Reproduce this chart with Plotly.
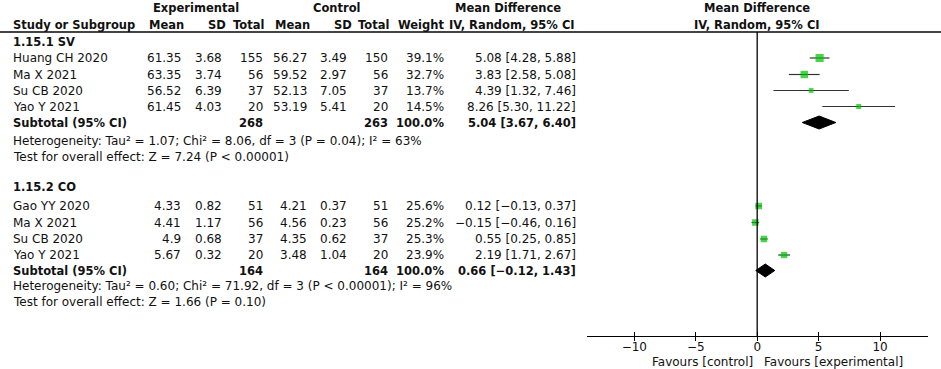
import plotly.graph_objects as go

# ---------------- data ----------------
studies_sv = ["Huang CH 2020", "Ma X 2021", "Su CB 2020", "Yao Y 2021"]
exp_mean_sv = [61.35, 63.35, 56.52, 61.45]
exp_sd_sv = [3.68, 3.74, 6.39, 4.03]
exp_n_sv = [155, 56, 37, 20]
ctl_mean_sv = [56.27, 59.52, 52.13, 53.19]
ctl_sd_sv = [3.49, 2.97, 7.05, 5.41]
ctl_n_sv = [150, 56, 37, 20]
weight_sv = [39.1, 32.7, 13.7, 14.5]
md_sv = [5.08, 3.83, 4.39, 8.26]
lo_sv = [4.28, 2.58, 1.32, 5.30]
hi_sv = [5.88, 5.08, 7.46, 11.22]
sub_sv = {"n_e": 268, "n_c": 263, "md": 5.04, "lo": 3.67, "hi": 6.40}
het_sv = "Heterogeneity: Tau² = 1.07; Chi² = 8.06, df = 3 (P = 0.04); I² = 63%"
test_sv = "Test for overall effect: Z = 7.24 (P < 0.00001)"

studies_co = ["Gao YY 2020", "Ma X 2021", "Su CB 2020", "Yao Y 2021"]
exp_mean_co = [4.33, 4.41, 4.9, 5.67]
exp_sd_co = [0.82, 1.17, 0.68, 0.32]
exp_n_co = [51, 56, 37, 20]
ctl_mean_co = [4.21, 4.56, 4.35, 3.48]
ctl_sd_co = [0.37, 0.23, 0.62, 1.04]
ctl_n_co = [51, 56, 37, 20]
weight_co = [25.6, 25.2, 25.3, 23.9]
md_co = [0.12, -0.15, 0.55, 2.19]
lo_co = [-0.13, -0.46, 0.25, 1.71]
hi_co = [0.37, 0.16, 0.85, 2.67]
sub_co = {"n_e": 164, "n_c": 164, "md": 0.66, "lo": -0.12, "hi": 1.43}
het_co = "Heterogeneity: Tau² = 0.60; Chi² = 71.92, df = 3 (P < 0.00001); I² = 96%"
test_co = "Test for overall effect: Z = 1.66 (P = 0.10)"

tick_vals = [-10, -5, 0, 5, 10]
group_titles = ["1.15.1 SV", "1.15.2 CO"]

# ---------------- layout helpers ----------------
W, H = 941, 369
FONT = "DejaVu Sans"
FS = 12
FSB = 11.5

# row positions (pixels from top)
rows_sv = [58, 74.5, 90.5, 106.5]
sub_y_sv = 122.5
het_y_sv = 141
test_y_sv = 157
grp_y = [42, 187]
rows_co = [206, 222.5, 239, 255]
sub_y_co = 270.5
het_y_co = 286
test_y_co = 302

# column right edges (pixels)
col_right = [182, 223, 264, 308, 348, 389, 445, 577]

annotations = []


def px(x):
    return x / W


def txt(x, y, s, anchor="right", bold=False):
    if bold:
        s = "<b>" + s + "</b>"
    annotations.append(dict(
        x=px(x), xref="paper", y=y, yref="y", text=s, showarrow=False,
        xanchor=anchor, yanchor="middle", borderpad=0,
        font=dict(family=FONT, size=FSB if bold else FS, color="#111")))


def fmt_num(v):
    return f"{v:.2f}".replace("-", "−")


def fmt(v):
    return str(v)


# headers
txt(196, 8, "Experimental", "center", True)
txt(337, 8, "Control", "center", True)
txt(508, 8, "Mean Difference", "center", True)
txt(757, 8, "Mean Difference", "center", True)
txt(12, 24.5, "Study or Subgroup", "left", True)
for x, s in zip([185, 227, 265, 311, 353, 390, 445],
                ["Mean", "SD", "Total", "Mean", "SD", "Total", "Weight"]):
    txt(x, 24.5, s, "right", True)
txt(512, 24.5, "IV, Random, 95% CI", "center", True)
txt(757, 24.5, "IV, Random, 95% CI", "center", True)

groups = [
    (studies_sv, exp_mean_sv, exp_sd_sv, exp_n_sv, ctl_mean_sv, ctl_sd_sv, ctl_n_sv,
     weight_sv, md_sv, lo_sv, hi_sv, sub_sv, het_sv, test_sv, rows_sv, sub_y_sv, het_y_sv, test_y_sv),
    (studies_co, exp_mean_co, exp_sd_co, exp_n_co, ctl_mean_co, ctl_sd_co, ctl_n_co,
     weight_co, md_co, lo_co, hi_co, sub_co, het_co, test_co, rows_co, sub_y_co, het_y_co, test_y_co),
]

fig = go.Figure()

for gi, g in enumerate(groups):
    (st, em, es, en, cm, cs, cn, wt, md, lo, hi, sub, het, tst, rows, suby, hety, testy) = g
    txt(12, grp_y[gi], group_titles[gi], "left", True)
    for i in range(len(st)):
        y = rows[i]
        txt(12, y, st[i], "left")
        vals = [fmt(em[i]), fmt(es[i]), fmt(en[i]), fmt(cm[i]), fmt(cs[i]), fmt(cn[i]),
                f"{wt[i]:.1f}%", f"{fmt_num(md[i])} [{fmt_num(lo[i])}, {fmt_num(hi[i])}]"]
        for x, s in zip(col_right, vals):
            txt(x, y, s, "right")
    txt(12, suby, "Subtotal (95% CI)", "left", True)
    txt(col_right[2], suby, str(sub["n_e"]), "right", True)
    txt(col_right[5], suby, str(sub["n_c"]), "right", True)
    txt(col_right[6], suby, "100.0%", "right", True)
    txt(col_right[7], suby, f"{fmt_num(sub['md'])} [{fmt_num(sub['lo'])}, {fmt_num(sub['hi'])}]", "right", True)
    txt(12, hety, het, "left")
    txt(12, testy, tst, "left")

    # CI lines
    lx, ly = [], []
    for i in range(len(md)):
        lx += [lo[i], hi[i], None]
        ly += [rows[i], rows[i], None]
    fig.add_trace(go.Scatter(x=lx, y=ly, mode="lines",
                             line=dict(color="#333", width=1.2),
                             hoverinfo="skip", showlegend=False))
    # squares
    fig.add_trace(go.Scatter(x=md, y=rows, mode="markers",
                             marker=dict(symbol="square", color="#00c000",
                                         size=[1.3 * (w ** 0.5) for w in wt],
                                         line=dict(width=0)),
                             showlegend=False))
    # diamond
    dh = 6.5
    fig.add_trace(go.Scatter(
        x=[sub["lo"], sub["md"], sub["hi"], sub["md"], sub["lo"]],
        y=[suby, suby - dh, suby, suby + dh, suby],
        mode="lines", fill="toself", fillcolor="black",
        line=dict(color="black", width=1), showlegend=False))

# favours
FAV_Y = 362
for x, s, anc in [(754, "Favours [control]", "right"), (763, "Favours [experimental]", "left")]:
    annotations.append(dict(x=px(x), xref="paper", y=(H - FAV_Y) / H, yref="paper",
                            text=s, showarrow=False, xanchor=anc,
                            yanchor="middle", borderpad=0,
                            font=dict(family=FONT, size=FS, color="#111")))

shapes = [
    dict(type="line", xref="paper", yref="y", x0=0, x1=1, y0=32, y1=32,
         line=dict(color="#444", width=2)),
    dict(type="line", xref="x", yref="y", x0=0, x1=0, y0=32, y1=336,
         line=dict(color="black", width=1.3)),
]

AX_Y = 336
ax_pos = (H - AX_Y) / H
x_domain = [px(587), px(928)]
x_range = [-13.85, 13.9]

fig.update_layout(
    width=W, height=H,
    margin=dict(l=0, r=0, t=0, b=0),
    paper_bgcolor="white", plot_bgcolor="white",
    annotations=annotations, shapes=shapes,
    showlegend=False,
    xaxis=dict(domain=x_domain, range=x_range,
               anchor="free", position=ax_pos,
               showgrid=False, zeroline=False, showline=True,
               linecolor="black", linewidth=1.2,
               ticks="outside", ticklen=4, tickcolor="black", tickwidth=1,
               tickvals=tick_vals, ticklabelstandoff=-5,
               tickfont=dict(family=FONT, size=FS, color="#111")),
    xaxis2=dict(domain=x_domain, range=x_range, overlaying="x",
                anchor="free", position=ax_pos,
                showgrid=False, zeroline=False, showline=False,
                ticks="inside", ticklen=4, tickcolor="black", tickwidth=1,
                tickvals=tick_vals, showticklabels=False),
    yaxis=dict(domain=[0, 1], range=[H, 0], visible=False, showgrid=False,
               zeroline=False),
)
# invisible trace to activate the overlaid tick axis
fig.add_trace(go.Scatter(x=[x_range[0]], y=[-100], xaxis="x2", mode="markers",
                         marker=dict(opacity=0), hoverinfo="skip", showlegend=False))

# the page body has a default 8px margin; remove it so the figure fills the window
fig.write_html("out.html", config={"displayModeBar": False, "staticPlot": True},
               post_script="document.body.style.margin='0';")
